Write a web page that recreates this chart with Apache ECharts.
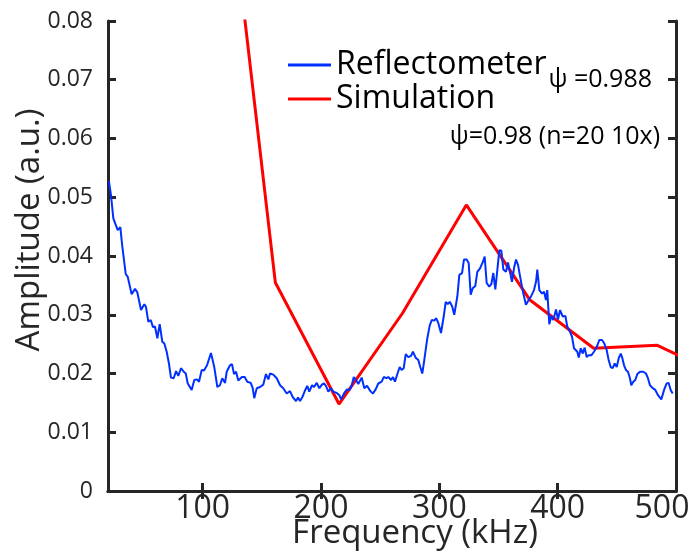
<!DOCTYPE html>
<html>
<head>
<meta charset="utf-8">
<script src="https://cdn.jsdelivr.net/npm/echarts@6/dist/echarts.min.js"></script>
<style>html,body{margin:0;padding:0;background:#fff;}#c{width:691px;height:553px;}</style>
</head>
<body>
<div id="c"></div>
<script>
// ---- data ----
const xTicks = [100, 200, 300, 400, 500];
const xTopTicks = [100, 200, 300, 400];
const seriesNames = ['Reflectometer', 'Simulation'];
const annotations = ['\u03c8 =0.988', '\u03c8=0.98 (n=20 10x)'];
const xTitle = 'Frequency (kHz)';
const yTitle = 'Amplitude (a.u.)';

// Reflectometer: [frequency kHz, amplitude]
const reflectometer = [
[20.8,0.0527],[22.5,0.0504],[24.5,0.0464],[28.2,0.0444],[30.4,0.0449],[32.1,0.0416],[35.0,0.0369],[36.6,0.0365],[40.0,0.0335],[42.8,0.0344],
[44.8,0.0338],[47.9,0.0308],[50.7,0.0318],[52.1,0.0313],[54.1,0.0288],[56.1,0.0291],[58.0,0.0279],[59.7,0.0280],[61.7,0.0260],[63.7,0.0284],
[65.9,0.0254],[67.6,0.0251],[69.6,0.0237],[71.5,0.0217],[73.2,0.0193],[75.5,0.0192],[77.5,0.0204],[79.4,0.0196],[81.7,0.0209],[84.0,0.0203],
[85.7,0.0200],[87.4,0.0183],[90.7,0.0172],[92.9,0.0189],[95.2,0.0190],[96.9,0.0186],[99.2,0.0206],[101.1,0.0205],[103.7,0.0214],[107.0,0.0235],
[109.8,0.0211],[112.4,0.0177],[114.6,0.0180],[116.6,0.0192],[118.9,0.0184],
[120.3,0.0203],[123.1,0.0214],[124.8,0.0216],[126.5,0.0199],[128.2,0.0203],[130.1,0.0188],[133.2,0.0194],[135.5,0.0194],[137.7,0.0186],[140.6,0.0184],
[142.3,0.0175],[143.6,0.0158],[145.7,0.0175],[148.5,0.0177],[151.2,0.0181],[153.5,0.0199],[155.5,0.0190],[156.9,0.0200],[159.7,0.0198],[162.6,0.0192],
[165.4,0.0180],[168.1,0.0175],[171.0,0.0166],[173.8,0.0170],[176.1,0.0160],[178.9,0.0153],[180.6,0.0159],[182.3,0.0153],[184.5,0.0161],[186.7,0.0172],
[188.4,0.0179],[190.1,0.0169],[192.4,0.0180],[194.1,0.0177],[196.4,0.0184],[198.6,0.0175],[200.8,0.0181],[202.5,0.0183],[204.2,0.0179],[206.2,0.0169],
[208.2,0.0175],[210.4,0.0169],[213.3,0.0167],[215.5,0.0163],
[216.9,0.0156],[219.7,0.0167],[222.0,0.0173],[224.3,0.0172],[226.0,0.0180],[227.7,0.0194],[229.3,0.0190],[231.5,0.0182],[234.4,0.0193],[236.6,0.0175],
[238.9,0.0179],[241.7,0.0170],[243.9,0.0166],[246.2,0.0173],[248.4,0.0183],[251.3,0.0186],[253.0,0.0194],[255.2,0.0192],[256.9,0.0194],[259.2,0.0189],
[260.8,0.0194],[262.5,0.0186],[264.2,0.0197],[266.5,0.0211],[268.1,0.0206],[269.9,0.0209],[271.6,0.0233],[273.8,0.0228],[276.1,0.0230],[277.7,0.0237],
[280.0,0.0227],[282.2,0.0223],[283.9,0.0211],[285.6,0.0200],[287.3,0.0223],[289.6,0.0257],[291.9,0.0282],[293.6,0.0291],[295.7,0.0290],[297.4,0.0294],
[299.1,0.0286],[301.4,0.0269],[303.7,0.0297],[305.4,0.0322],[307.1,0.0318],[308.8,0.0322],[310.9,0.0314],[312.6,0.0300],
[315.2,0.0331],[316.9,0.0368],[319.2,0.0371],[320.8,0.0394],[323.1,0.0394],[324.8,0.0388],[326.5,0.0334],[328.2,0.0345],[330.4,0.0349],[332.1,0.0373],
[334.4,0.0379],[336.6,0.0389],[338.3,0.0399],[340.0,0.0354],[342.2,0.0348],[343.9,0.0352],[345.6,0.0371],[347.3,0.0343],[349.0,0.0376],[350.7,0.0410],
[352.4,0.0409],[354.1,0.0377],[356.3,0.0373],[358.0,0.0389],[359.7,0.0373],[361.4,0.0356],[363.1,0.0379],[364.8,0.0394],[366.5,0.0385],[368.8,0.0359],
[371.0,0.0336],[373.2,0.0317],[375.5,0.0325],[377.7,0.0332],[380.0,0.0342],[381.7,0.0356],[382.8,0.0377],[384.5,0.0342],[386.8,0.0336],[388.5,0.0339],
[390.1,0.0325],[391.2,0.0342],[392.9,0.0284],[394.6,0.0298],[396.3,0.0291],[398.6,0.0309],[400.3,0.0292],[402.0,0.0308],[404.3,0.0297],[406.5,0.0298],
[408.1,0.0280],[410.4,0.0271],
[412.1,0.0263],[413.8,0.0243],[414.9,0.0245],[416.6,0.0237],[417.8,0.0227],[419.5,0.0243],[421.2,0.0234],[422.8,0.0244],[424.5,0.0228],[426.2,0.0231],
[428.4,0.0231],[430.7,0.0237],[433.0,0.0245],[435.2,0.0257],[437.5,0.0257],[439.2,0.0252],[441.4,0.0240],[443.1,0.0223],[444.8,0.0211],[446.5,0.0209],
[448.2,0.0217],[449.9,0.0211],[451.6,0.0226],[453.3,0.0234],[454.4,0.0228],[456.1,0.0214],[457.7,0.0206],[459.4,0.0203],[461.1,0.0192],[462.2,0.0180],
[463.9,0.0186],[465.6,0.0189],[467.3,0.0199],[469.6,0.0203],[472.4,0.0203],[474.6,0.0200],[476.3,0.0192],[478.0,0.0180],[480.3,0.0175],[482.5,0.0172],
[484.8,0.0163],[487.6,0.0156],[489.9,0.0172],[492.1,0.0183],[493.8,0.0184],[495.5,0.0172],[497.2,0.0166]
];

// Simulation: [frequency kHz, amplitude]
const simulation = [
[107.6,0.1290],[161.4,0.0355],[215.2,0.0148],[269.0,0.0303],[322.8,0.0487],
[376.6,0.0325],[430.4,0.0243],[484.2,0.0248],[538.0,0.0197]
];

// ---- chart ----
const FONT = 'Open Sans';
const AX = '#262626';
const chart = echarts.init(document.getElementById('c'), null, {renderer: 'canvas'});

const axisLineStyle = {show: true, lineStyle: {color: AX, width: 3}};
const tickStyle = {color: AX, width: 3};

chart.setOption({
  animation: false,
  backgroundColor: '#fff',
  grid: {left: 108, right: 15, top: 21, bottom: 62, containLabel: false, outerBoundsMode: 'none'},
  legend: {
    orient: 'vertical',
    left: 283, top: 44,
    icon: 'rect',
    itemWidth: 43, itemHeight: 3, itemGap: 2,
    data: seriesNames,
    textStyle: {fontFamily: FONT, fontSize: 32, color: '#000'}
  },
  xAxis: [
    {
      type: 'value', position: 'bottom', min: 20, max: 500,
      axisLine: axisLineStyle,
      axisTick: {show: true, inside: true, length: 8, customValues: xTicks, lineStyle: tickStyle},
      axisLabel: {
        customValues: xTicks, fontFamily: FONT, fontSize: 32, color: AX, margin: 2,
        formatter: function (v) { return v === 500 ? '{r|500}' : String(v); },
        rich: {r: {fontFamily: FONT, fontSize: 32, color: AX, padding: [0, 28, 0, 0]}}
      },
      splitLine: {show: false}
    },
    {
      type: 'value', position: 'top', min: 20, max: 500,
      axisLine: axisLineStyle,
      axisTick: {show: true, inside: true, length: 8, customValues: xTopTicks, lineStyle: tickStyle},
      axisLabel: {show: false},
      splitLine: {show: false}
    }
  ],
  yAxis: [
    {
      type: 'value', position: 'left', min: 0, max: 0.08, interval: 0.01,
      axisLine: axisLineStyle,
      axisTick: {show: true, inside: true, length: 8, lineStyle: tickStyle},
      axisLabel: {fontFamily: FONT, fontSize: 23, color: AX, margin: 15},
      splitLine: {show: false}
    },
    {
      type: 'value', position: 'right', min: 0, max: 0.08, interval: 0.01,
      axisLine: axisLineStyle,
      axisTick: {show: true, inside: true, length: 8, lineStyle: tickStyle},
      axisLabel: {show: false},
      splitLine: {show: false}
    }
  ],
  series: [
    {
      name: seriesNames[0], type: 'line', data: reflectometer,
      xAxisIndex: 0, yAxisIndex: 0, symbol: 'none', z: 3, clip: true,
      itemStyle: {color: '#0030ff'},
      lineStyle: {color: '#0030ff', width: 2}
    },
    {
      name: seriesNames[1], type: 'line', data: simulation,
      xAxisIndex: 0, yAxisIndex: 0, symbol: 'none', z: 2, clip: true,
      itemStyle: {color: '#ff0000'},
      lineStyle: {color: '#ff0000', width: 3}
    }
  ],
  graphic: [
    {type: 'text', x: 30, y: 230, rotation: Math.PI / 2,
     style: {text: yTitle, fontFamily: FONT, fontSize: 33, fill: AX, align: 'center', verticalAlign: 'middle'}},
    {type: 'text', x: 415, y: 534,
     style: {text: xTitle, fontFamily: FONT, fontSize: 33, fill: AX, align: 'center', verticalAlign: 'middle'}},
    {type: 'text', x: 652, y: 80,
     style: {text: annotations[0], fontFamily: FONT, fontSize: 25, fill: '#000', align: 'right', verticalAlign: 'middle'}},
    {type: 'text', x: 660, y: 137,
     style: {text: annotations[1], fontFamily: FONT, fontSize: 25, fill: '#000', align: 'right', verticalAlign: 'middle'}}
  ]
});
</script>
</body>
</html>
